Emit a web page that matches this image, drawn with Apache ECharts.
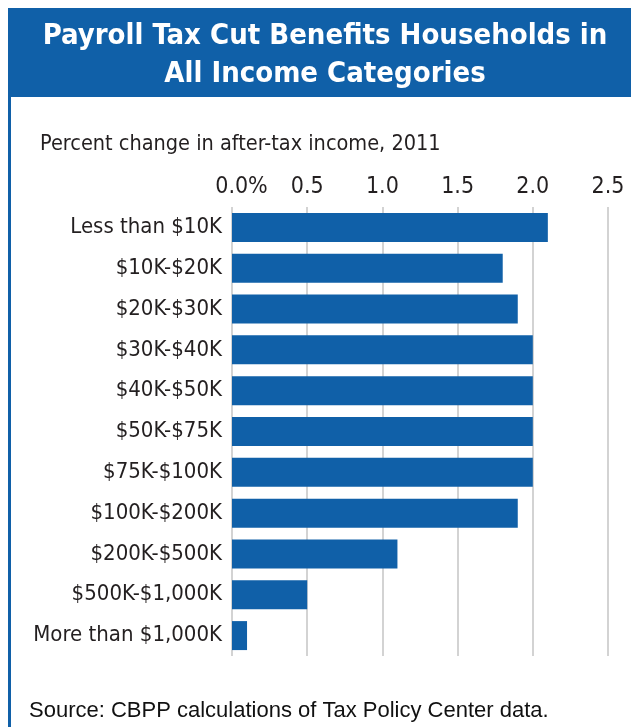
<!DOCTYPE html>
<html>
<head>
<meta charset="utf-8">
<script src="https://cdn.jsdelivr.net/npm/echarts@6/dist/echarts.min.js"></script>
<style>
html,body{margin:0;padding:0;background:#fff;}
#chart{width:631px;height:727px;}
</style>
</head>
<body>
<div id="chart"></div>
<script>
var categories = ["Less than $10K", "$10K-$20K", "$20K-$30K", "$30K-$40K", "$40K-$50K", "$50K-$75K", "$75K-$100K", "$100K-$200K", "$200K-$500K", "$500K-$1,000K", "More than $1,000K"];
var values = [2.1, 1.8, 1.9, 2.0, 2.0, 2.0, 2.0, 1.9, 1.1, 0.5, 0.1];
var tickValues = [0, 0.5, 1.0, 1.5, 2.0, 2.5];
var tickLabels = ["0.0%", "0.5", "1.0", "1.5", "2.0", "2.5"];

var NARROW = "'DejaVu Sans Condensed', 'Liberation Sans Narrow', sans-serif";
var BLUE = "#1060a8";

var chart = echarts.init(document.getElementById('chart'));
chart.setOption({
  animation: false,
  backgroundColor: '#ffffff',
  graphic: [
    { type: 'rect', shape: { x: 8, y: 8, width: 623, height: 89 }, style: { fill: BLUE }, z: -1 },
    { type: 'rect', shape: { x: 8, y: 8, width: 3, height: 719 }, style: { fill: BLUE }, z: -1 }
  ],
  title: [
    {
      text: 'Payroll Tax Cut Benefits Households in\nAll Income Categories',
      left: 320, top: 12, textAlign: 'center',
      textStyle: { color: '#ffffff', fontFamily: NARROW, fontWeight: 'bold', fontSize: 29, lineHeight: 38 }
    },
    {
      text: 'Percent change in after-tax income, 2011',
      left: 35, top: 128,
      textStyle: { color: '#231f20', fontFamily: NARROW, fontWeight: 'normal', fontSize: 21.5 }
    },
    {
      text: 'Source: CBPP calculations of Tax Policy Center data.',
      left: 24, top: 695,
      textStyle: { color: '#111111', fontFamily: "'Liberation Sans', Arial, sans-serif", fontWeight: 'normal', fontSize: 22 }
    }
  ],
  grid: { left: 232, right: 23, top: 207, bottom: 71, containLabel: false },
  xAxis: {
    type: 'value', position: 'top', min: 0, max: 2.5, interval: 0.5,
    axisLine: { show: false }, axisTick: { show: false },
    splitLine: { show: true, lineStyle: { color: '#c4c4c4', width: 1.5 } },
    axisLabel: {
      margin: 8, color: '#231f20', fontFamily: NARROW, fontSize: 23,
      formatter: function (v) {
        var i = tickValues.findIndex(function (t) { return Math.abs(t - v) < 1e-9; });
        var s = i >= 0 ? tickLabels[i] : String(v);
        return i === 0 ? '{p|' + s + '}' : s;
      },
      rich: { p: { fontFamily: NARROW, fontSize: 23, color: '#231f20', padding: [0, 0, 0, 19] } }
    }
  },
  yAxis: {
    type: 'category', data: categories, inverse: true,
    axisLine: { show: false }, axisTick: { show: false },
    axisLabel: { margin: 10, color: '#231f20', fontFamily: NARROW, fontSize: 22 }
  },
  series: [{
    type: 'bar', data: values, barCategoryGap: '29%',
    itemStyle: { color: BLUE }
  }]
});
</script>
</body>
</html>
